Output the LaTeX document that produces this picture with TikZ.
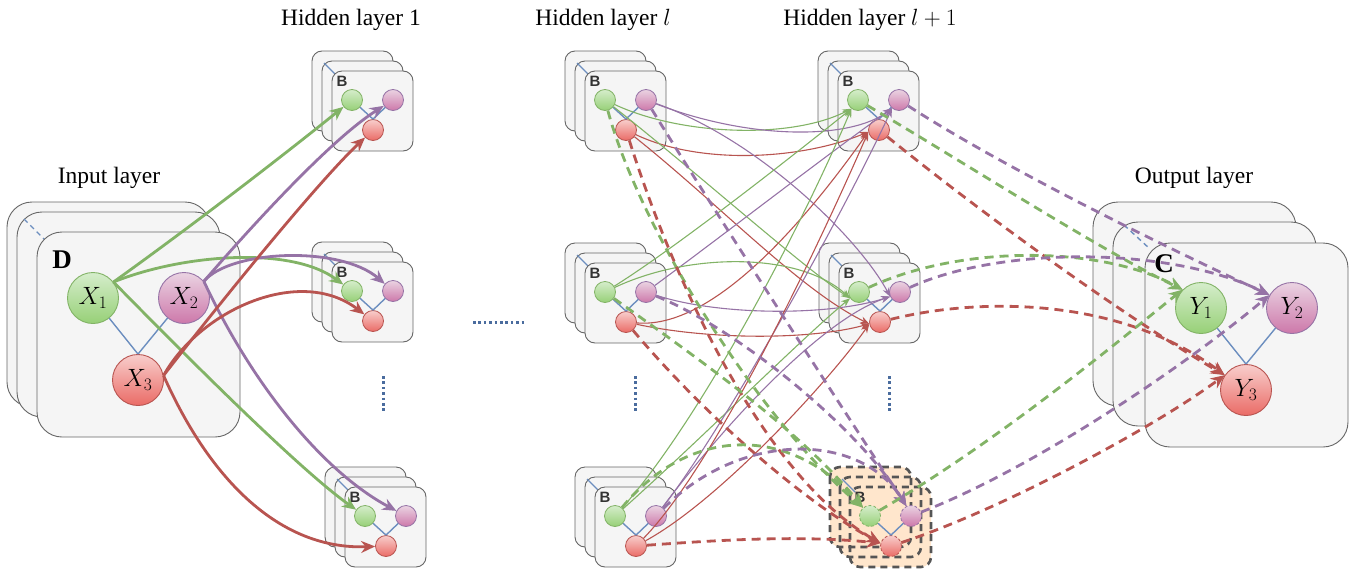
\RequirePackage{fix-cm}
\documentclass[tikz,border=0pt]{standalone}
\usepackage{fontspec}
\setmainfont{Liberation Serif}
\newfontfamily\lsans{Liberation Sans}
\usetikzlibrary{arrows.meta}
\definecolor{boxfill}{HTML}{F5F5F5}
\definecolor{boxline}{HTML}{666666}
\definecolor{eg}{HTML}{82B366}
\definecolor{ep}{HTML}{9673A6}
\definecolor{er}{HTML}{B85450}
\definecolor{gA}{HTML}{D5EDCB}
\definecolor{gB}{HTML}{97D077}
\definecolor{pA}{HTML}{EAD3E2}
\definecolor{pB}{HTML}{CD78AA}
\definecolor{rA}{HTML}{F8CECC}
\definecolor{rB}{HTML}{EA6B66}
\definecolor{bl}{HTML}{6C8EBF}
\definecolor{dotc}{HTML}{4A6C9E}
\definecolor{orf}{HTML}{FFE6CC}
\definecolor{dk}{HTML}{555555}
\newcommand\smallstack[3]{%
\begin{scope}[shift={(#2,#3)}]
\draw[sbox] (-20,-20) rectangle (61,60);
\draw[sbox] (-10,-10) rectangle (71,70);
\draw[blueedge] (-8,-8) -- (5,5);
\draw[sbox] (0,0) rectangle (81,80);
\node[blbl] (#1-B) at (10,10) {B};
\node[gsm] (#1-g) at (20,29) {};
\node[psm] (#1-p) at (61,29) {};
\node[rsm] (#1-r) at (41,59) {};
\draw[blueedge] (#1-g) -- (#1-r.north);
\draw[blueedge] (#1-p) -- (#1-r.north);
\end{scope}}
\begin{document}
\begin{tikzpicture}[x=1pt,y=-1pt,
  sbox/.style={draw=boxline,fill=boxfill,line width=0.9pt,rounded corners=10pt},
  bigbox/.style={draw=boxline,fill=boxfill,line width=0.9pt,rounded corners=25pt},
  dbox/.style={draw=dk,line width=2.6pt,dash pattern=on 7pt off 5pt,rounded corners=10pt},
  blueedge/.style={draw=bl,line width=1.4pt},
  bluedash/.style={draw=bl,line width=1.4pt,dash pattern=on 5pt off 4pt},
  blbl/.style={font=\lsans\bfseries\fontsize{15}{15}\selectfont,text=black!80,inner sep=0pt},
  smc/.style={circle,minimum size=21pt,inner sep=0pt,line width=0.8pt},
  gsm/.style={smc,draw=eg,top color=gA,bottom color=gB},
  psm/.style={smc,draw=ep,top color=pA,bottom color=pB},
  rsm/.style={smc,draw=er,top color=rA,bottom color=rB},
  bigc/.style={circle,minimum size=51pt,inner sep=0pt,line width=0.9pt,font=\fontsize{25}{30}\selectfont},
  gbig/.style={bigc,draw=eg,top color=gA,bottom color=gB},
  pbig/.style={bigc,draw=ep,top color=pA,bottom color=pB},
  rbig/.style={bigc,draw=er,top color=rA,bottom color=rB},
  ttl/.style={font=\fontsize{23.5}{28}\selectfont,inner sep=0pt},
  biglbl/.style={font=\fontsize{27}{32}\selectfont,inner sep=0pt},
  ts/.style={line width=2.8pt,-{Stealth[length=14pt,width=12pt]}},
  tn/.style={line width=1.1pt,-{Stealth[length=9pt,width=7pt]}},
  dsh/.style={line width=2.8pt,dash pattern=on 9pt off 6pt,-{Stealth[length=14pt,width=12pt]}},
  dotline/.style={draw=dotc,line width=3pt,dash pattern=on 2.6pt off 2.8pt}
]
\useasboundingbox (0,0) rectangle (1368,573);

% titles
\node[ttl] (tH1) at (351,20) {Hidden layer 1};
\node[ttl] (tHl) at (603,20) {Hidden layer $l$};
\node[ttl] (tHl1) at (870,20) {Hidden layer $l+1$};
\node[ttl] (tIn) at (109,178) {Input layer};
\node[ttl] (tOut) at (1194,178) {Output layer};

% input stack
\draw[bigbox] (7,202) rectangle ++(203,205);
\draw[bigbox] (17,212) rectangle ++(203,205);
\draw[bluedash] (24,219) -- (48,243);
\draw[bigbox] (37,232) rectangle ++(203,205);
\node[biglbl] (D) at (62,260) {$\mathbf{D}$};
\node[gbig] (X1) at (93,298) {$X_1$};
\node[pbig] (X2) at (184,298) {$X_2$};
\node[rbig] (X3) at (138,380) {$X_3$};
\draw[blueedge] (X1) -- (X3.north);
\draw[blueedge] (X2) -- (X3.north);

% output stack
\draw[bigbox] (1093,202) rectangle ++(203,204);
\draw[bigbox] (1113,222) rectangle ++(203,204);
\draw[bluedash] (1124,225) -- (1150,249);
\draw[bigbox] (1145,243) rectangle ++(203,204);
\node[biglbl] (C) at (1164,264) {$\mathbf{C}$};
\node[gbig] (Y1) at (1201,308) {$Y_1$};
\node[pbig] (Y2) at (1292,308) {$Y_2$};
\node[rbig] (Y3) at (1246,390) {$Y_3$};
\draw[blueedge] (Y1) -- (Y3.north);
\draw[blueedge] (Y2) -- (Y3.north);

% small stacks
\smallstack{H1a}{332}{71}
\smallstack{H1b}{332}{262}
\smallstack{H1c}{345}{487}
\smallstack{La}{585}{71}
\smallstack{Lb}{585}{263}
\smallstack{Lc}{595}{487}
\smallstack{Ma}{838}{71}
\smallstack{Mb}{839}{263}

% highlighted stack
\begin{scope}[shift={(850,487)}]
\fill[orf,rounded corners=10pt] (-20,-20) rectangle (61,60);
\fill[orf,rounded corners=10pt] (-10,-10) rectangle (71,70);
\fill[orf,rounded corners=10pt] (0,0) rectangle (81,80);
\draw[dbox] (-20,-20) rectangle (61,60);
\draw[dbox] (-10,-10) rectangle (71,70);
\draw[blueedge] (-8,-8) -- (5,5);
\draw[dbox] (0,0) rectangle (81,80);
\node[blbl] (Mc-B) at (10,10) {B};
\node[gsm,dash pattern=on 3pt off 2pt] (Mc-g) at (20,29) {};
\node[psm,dash pattern=on 3pt off 2pt] (Mc-p) at (61,29) {};
\node[rsm,dash pattern=on 3pt off 2pt] (Mc-r) at (41,59) {};
\draw[blueedge] (Mc-g) -- (Mc-r.north);
\draw[blueedge] (Mc-p) -- (Mc-r.north);
\end{scope}

% dotted ellipses
\draw[dotline] (383,376) -- (383,412);
\draw[dotline] (635,376) -- (635,412);
\draw[dotline] (889,376) -- (889,412);
\draw[dotline] (473,322) -- (526,322);

% input -> hidden 1
\draw[ts,draw=eg] (X1.38) .. controls (200,220) and (290,150) .. (H1a-g);
\draw[ts,draw=eg] (X1.38) .. controls (180,255) and (290,245) .. (H1b-g);
\draw[ts,draw=eg] (X1.38) .. controls (190,360) and (300,470) .. (H1c-g);
\draw[ts,draw=ep] (X2.40) .. controls (250,228) and (330,140) .. (H1a-p);
\draw[ts,draw=ep] (X2.40) .. controls (230,250) and (340,245) .. (H1b-p);
\draw[ts,draw=ep] (X2.40) .. controls (250,380) and (320,470) .. (H1c-p);
\draw[ts,draw=er] (X3.10) .. controls (230,290) and (320,180) .. (H1a-r);
\draw[ts,draw=er] (X3.10) .. controls (200,310) and (300,265) .. (H1b-r);
\draw[ts,draw=er] (X3.10) .. controls (210,480) and (280,550) .. (H1c-r);

% hidden l -> hidden l+1 (thin)
\draw[tn,draw=eg] (La-g) .. controls (680,135) and (790,140) .. (Ma-g.233);
\draw[tn,draw=ep] (La-p) .. controls (750,140) and (850,140) .. (Ma-p.230);
\draw[tn,draw=er] (La-r) .. controls (700,165) and (800,160) .. (Ma-r.190);
\draw[tn,draw=eg] (La-g) .. controls (700,175) and (800,265) .. (Mb-g.215);
\draw[tn,draw=ep] (La-p) .. controls (760,140) and (860,240) .. (Mb-p.205);
\draw[tn,draw=er] (La-r) .. controls (720,205) and (800,290) .. (Mb-r.190);
\draw[tn,draw=eg] (Lb-g) .. controls (680,245) and (800,150) .. (Ma-g.233);
\draw[tn,draw=ep] (Lb-p) .. controls (730,230) and (820,160) .. (Ma-p.230);
\draw[tn,draw=er] (Lb-r) .. controls (720,330) and (820,200) .. (Ma-r.190);
\draw[tn,draw=eg] (Lb-g) .. controls (690,252) and (800,252) .. (Mb-g.215);
\draw[tn,draw=ep] (Lb-p) .. controls (720,316) and (830,316) .. (Mb-p.205);
\draw[tn,draw=er] (Lb-r) .. controls (710,340) and (810,340) .. (Mb-r.190);
\draw[tn,draw=eg] (Lc-g) .. controls (700,420) and (800,230) .. (Ma-g.233);
\draw[tn,draw=eg] (Lc-g) .. controls (700,440) and (800,340) .. (Mb-g.215);
\draw[tn,draw=ep] (Lc-p) .. controls (730,420) and (850,200) .. (Ma-p.230);
\draw[tn,draw=ep] (Lc-p) .. controls (720,430) and (820,320) .. (Mb-p.205);
\draw[tn,draw=er] (Lc-r) .. controls (720,460) and (830,220) .. (Ma-r.190);
\draw[tn,draw=er] (Lc-r) .. controls (720,500) and (830,380) .. (Mb-r.190);

% hidden l -> highlighted (dashed)
\draw[dsh,draw=eg] (La-g) .. controls (640,230) and (760,420) .. (Mc-g.130);
\draw[dsh,draw=ep] (La-p) .. controls (720,220) and (850,420) .. (Mc-p.115);
\draw[dsh,draw=er] (La-r) .. controls (680,300) and (770,480) .. (Mc-r.165);
\draw[dsh,draw=eg] (Lb-g) .. controls (700,360) and (800,430) .. (Mc-g.130);
\draw[dsh,draw=ep] (Lb-p) .. controls (740,330) and (860,430) .. (Mc-p.115);
\draw[dsh,draw=er] (Lb-r) .. controls (700,410) and (800,500) .. (Mc-r.165);
\draw[dsh,draw=eg] (Lc-g) .. controls (690,425) and (790,425) .. (Mc-g.130);
\draw[dsh,draw=ep] (Lc-p) .. controls (740,431) and (860,431) .. (Mc-p.115);
\draw[dsh,draw=er] (Lc-r) .. controls (720,540) and (800,535) .. (Mc-r.165);

% hidden l+1 -> output (dashed)
\draw[dsh,draw=eg] (Ma-g) .. controls (960,160) and (1100,250) .. (Y1.135);
\draw[dsh,draw=ep] (Ma-p) .. controls (1000,165) and (1150,240) .. (Y2.150);
\draw[dsh,draw=er] (Ma-r) .. controls (990,220) and (1130,320) .. (Y3.145);
\draw[dsh,draw=eg] (Mb-g) .. controls (960,245) and (1100,245) .. (Y1.135);
\draw[dsh,draw=ep] (Mb-p) .. controls (1000,246) and (1170,246) .. (Y2.150);
\draw[dsh,draw=er] (Mb-r) .. controls (980,297) and (1120,297) .. (Y3.145);
\draw[dsh,draw=eg] (Mc-g) .. controls (1000,440) and (1120,340) .. (Y1.135);
\draw[dsh,draw=ep] (Mc-p) .. controls (1030,470) and (1180,370) .. (Y2.150);
\draw[dsh,draw=er] (Mc-r) .. controls (1000,510) and (1150,430) .. (Y3.145);
\end{tikzpicture}
\end{document}
